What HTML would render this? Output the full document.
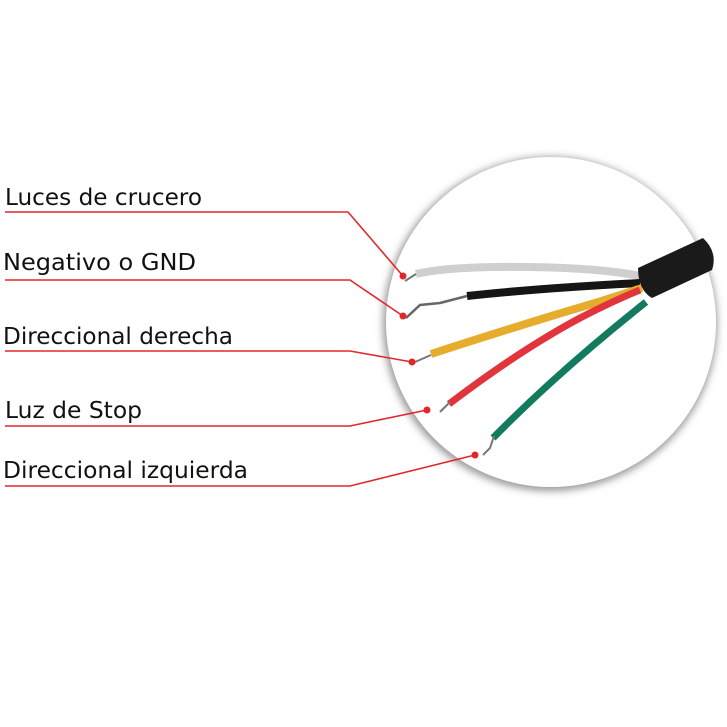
<!DOCTYPE html>
<html><head><meta charset="utf-8"><style>
html,body{margin:0;padding:0;background:#fff;width:727px;height:727px;overflow:hidden}
</style></head><body>
<svg width="727" height="727" viewBox="0 0 727 727" xmlns="http://www.w3.org/2000/svg">
<defs>
<filter id="sh" x="-20%" y="-20%" width="140%" height="140%">
<feGaussianBlur stdDeviation="4"/>
</filter>
</defs>
<circle cx="550" cy="324" r="167" fill="#999" filter="url(#sh)"/>
<circle cx="551" cy="322" r="165" fill="#fff"/>
<!-- wires -->
<path d="M416 274 Q450 266 530 267 Q600 268 640 276" stroke="#cfcfcf" stroke-width="8" fill="none"/>
<path d="M405 281 L416 274" stroke="#777" stroke-width="2"/>
<path d="M467 296 Q540 288 640 283" stroke="#151515" stroke-width="8" fill="none"/>
<path d="M406 318 L420 305 L440 303 L467 296" stroke="#666" stroke-width="2.5" fill="none"/>
<path d="M431 354 Q520 325 595 303 Q620 295 642 288" stroke="#e6ac2c" stroke-width="8" fill="none"/>
<path d="M415 362 L431 355" stroke="#777" stroke-width="2"/>
<path d="M449 404 Q520 350 580 318 Q615 300 640 290" stroke="#e1343c" stroke-width="7" fill="none"/>
<path d="M440 412 L450 402" stroke="#777" stroke-width="2"/>
<path d="M493 438 Q560 370 646 302" stroke="#127a5e" stroke-width="7" fill="none"/>
<path d="M483 455 L490 448 L494 436" stroke="#777" stroke-width="2" fill="none"/>
<path d="M638 268 L703 238 Q718 252 712 270 L652 298 Q638 290 638 268 Z" fill="#1a1a1a"/>
<!-- leaders -->
<g stroke="#e3262b" stroke-width="1.6" fill="none">
<polyline points="5,212 348,212 403,276"/>
<polyline points="5,280 350,280 403,316"/>
<polyline points="5,351 350,351 412,362"/>
<polyline points="5,426 350,426 427,410"/>
<polyline points="5,486 350,486 475,455"/>
</g>
<g fill="#e3262b">
<circle cx="403" cy="276" r="3.5"/>
<circle cx="403" cy="316" r="3.5"/>
<circle cx="412" cy="362" r="3.5"/>
<circle cx="427" cy="410" r="3.5"/>
<circle cx="475" cy="455" r="3.5"/>
</g>
<g font-family="'DejaVu Sans','Liberation Sans',sans-serif" font-size="23" fill="#111">
<text x="5" y="205" textLength="197" lengthAdjust="spacingAndGlyphs">Luces de crucero</text>
<text x="3" y="270" textLength="193" lengthAdjust="spacingAndGlyphs">Negativo o GND</text>
<text x="3" y="344" textLength="230" lengthAdjust="spacingAndGlyphs">Direccional derecha</text>
<text x="5" y="418" textLength="137" lengthAdjust="spacingAndGlyphs">Luz de Stop</text>
<text x="3" y="478" textLength="245" lengthAdjust="spacingAndGlyphs">Direccional izquierda</text>
</g>
</svg>
</body></html>
